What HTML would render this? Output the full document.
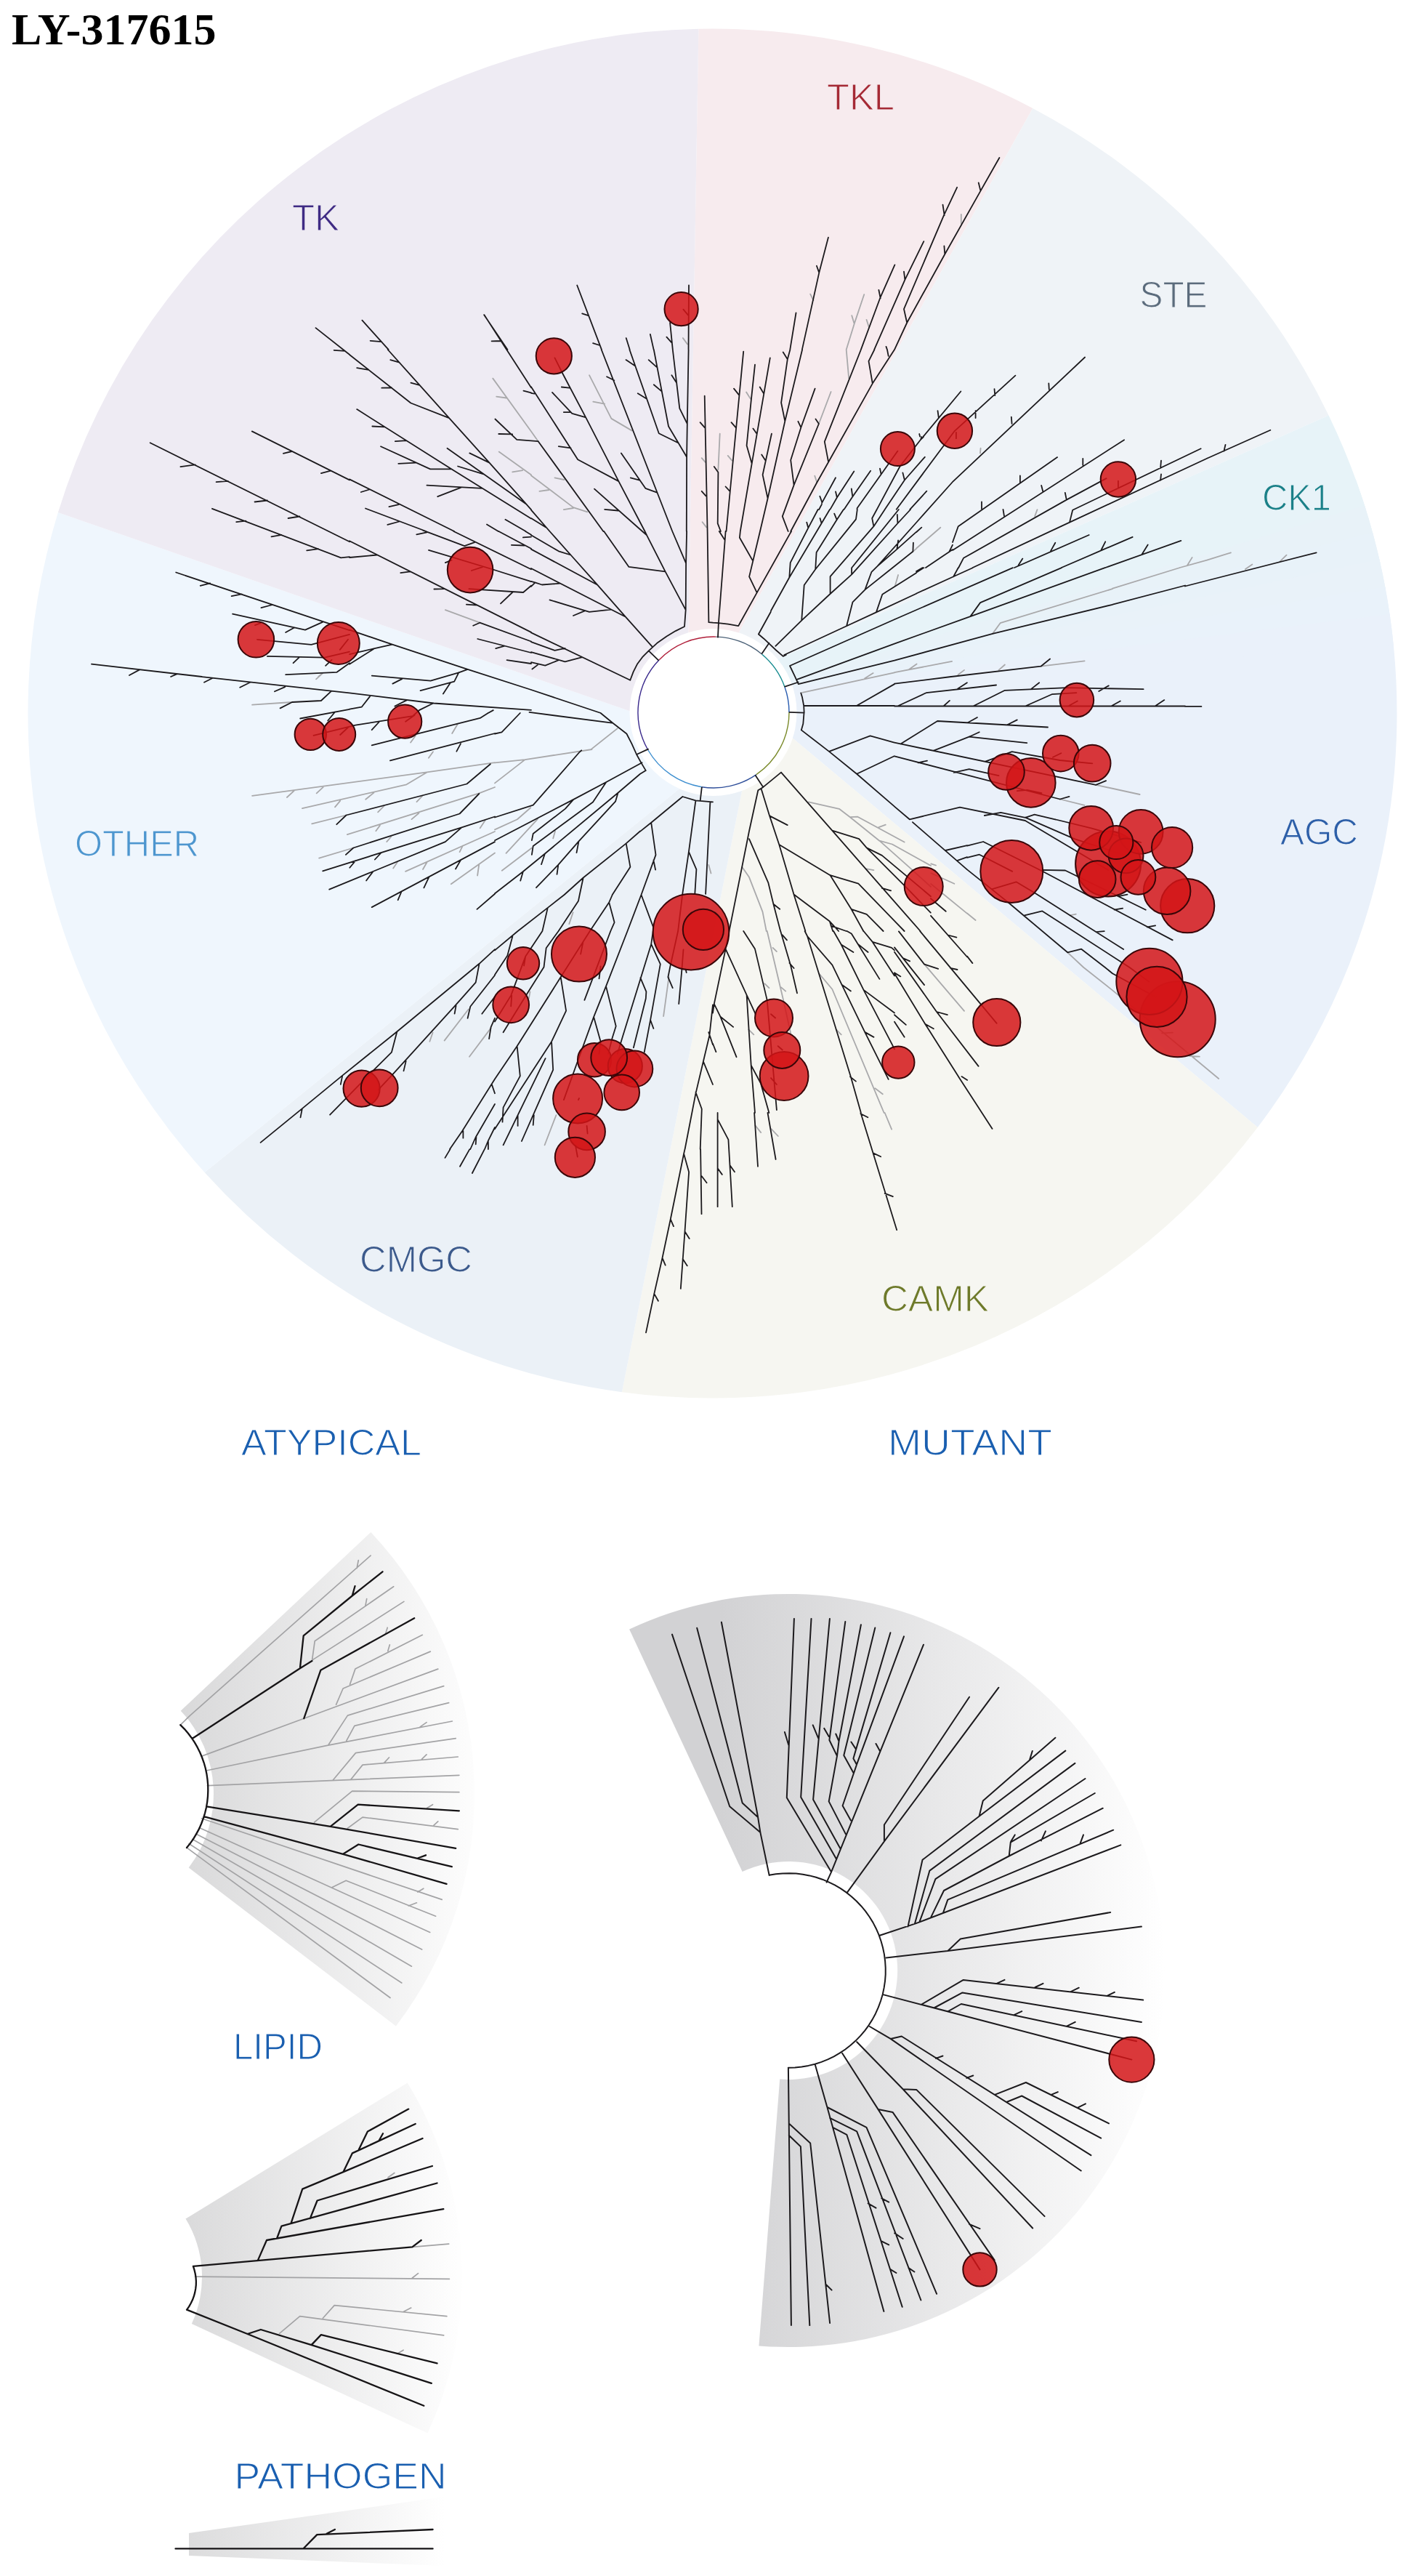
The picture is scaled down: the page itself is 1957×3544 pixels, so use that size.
<!DOCTYPE html>
<html><head><meta charset="utf-8"><title>LY-317615</title>
<style>
html,body{margin:0;padding:0;background:#fff}
body{width:1957px;height:3544px;overflow:hidden;position:relative}
svg{position:absolute;left:0;top:0;display:block}
.t{font-family:"Liberation Serif",serif;font-weight:bold;font-size:62px;fill:#000}
.l{font-family:"Liberation Sans",sans-serif;font-size:50px}
.k{fill:none;stroke:#1c1a1d;stroke-width:1.8;stroke-linecap:round;stroke-linejoin:round}
.g{fill:none;stroke:#a9a9ab;stroke-width:1.8;stroke-linecap:round;stroke-linejoin:round}
.b{fill:none;stroke:#161416;stroke-width:2.3;stroke-linecap:round;stroke-linejoin:round}
.m{fill:none;stroke:#1c1a1d;stroke-width:2;stroke-linecap:round;stroke-linejoin:round}
.h{fill:none;stroke:#a3a3a5;stroke-width:1.7;stroke-linecap:round;stroke-linejoin:round}
.c{fill:#d31518;fill-opacity:.85;stroke:#3a0608;stroke-width:2}
</style></head><body>
<svg width="1957" height="3544" viewBox="0 0 1957 3544">
<defs>
<linearGradient id="ga" gradientUnits="userSpaceOnUse" x1="250" y1="0" x2="655" y2="0"><stop offset="0" stop-color="#d9d9da"/><stop offset="1" stop-color="#fdfdfd"/></linearGradient>
<linearGradient id="gm" gradientUnits="userSpaceOnUse" x1="990" y1="0" x2="1605" y2="0"><stop offset="0" stop-color="#d2d2d4"/><stop offset="1" stop-color="#ffffff"/></linearGradient>
<linearGradient id="gl" gradientUnits="userSpaceOnUse" x1="255" y1="0" x2="630" y2="0"><stop offset="0" stop-color="#dadadb"/><stop offset="1" stop-color="#fefefe"/></linearGradient>
<linearGradient id="gp" gradientUnits="userSpaceOnUse" x1="260" y1="0" x2="612" y2="0"><stop offset="0" stop-color="#dcdcdd"/><stop offset="1" stop-color="#ffffff"/></linearGradient>
</defs>

<path d="M947.3,873.4 L961.4,39.7 A942,942 0 0 1 1421.3,149.0 L1015.2,873.2 L981.5,980 Z" fill="#f7ebee"/>
<path d="M1015.2,873.2 L1421.3,149.0 A942,942 0 0 1 1828.6,571.5 L1067.3,908.0 L981.5,980 Z" fill="#eff3f7"/>
<path d="M1067.3,908.0 L1828.6,571.5 A942,942 0 0 1 1905.2,801.8 L1088.0,945.4 L981.5,980 Z" fill="#e7f3f8"/>
<path d="M1088.0,945.4 L1905.2,801.8 A942,942 0 0 1 1730.8,1551.0 L1088.4,1013.5 L981.5,980 Z" fill="#eaf1fa"/>
<path d="M1088.4,1013.5 L1730.8,1551.0 A942,942 0 0 1 855.9,1915.2 L1021.8,1084.5 L981.5,980 Z" fill="#f6f6f1"/>
<path d="M1021.8,1084.5 L855.9,1915.2 A942,942 0 0 1 281.6,1613.0 L937.7,1083.1 L981.5,980 Z" fill="#ebf1f7"/>
<path d="M937.7,1083.1 L281.6,1613.0 A942,942 0 0 1 79.9,705.1 L869.5,979.2 L981.5,980 Z" fill="#eff6fd"/>
<path d="M869.5,979.2 L79.9,705.1 A942,942 0 0 1 961.4,39.7 L947.3,873.4 L981.5,980 Z" fill="#eeebf3"/>
<path d="M1083.8,934.4 L1865.7,659.3 A942,942 0 0 1 1879.6,700.3 L1085.1,937.4 L981.5,980 Z" fill="#e7f3f8"/>
<path d="M1084.8,936.8 L1878.1,695.6 A942,942 0 0 1 1890.3,737.2 L1086.0,939.8 L981.5,980 Z" fill="#e8f2f8"/>
<path d="M1085.8,939.3 L1889.0,732.4 A942,942 0 0 1 1899.5,774.4 L1086.9,942.2 L981.5,980 Z" fill="#e8f2f9"/>
<path d="M1086.7,941.7 L1898.4,769.6 A942,942 0 0 1 1907.1,812.0 L1087.8,944.7 L981.5,980 Z" fill="#e9f2f9"/>
<path d="M1087.6,944.2 L1906.2,807.1 A942,942 0 0 1 1913.3,849.9 L1088.6,947.2 L981.5,980 Z" fill="#e9f2fa"/>
<path d="M1088.4,946.6 L1912.6,845.0 A942,942 0 0 1 1917.8,887.9 L1089.3,949.7 L981.5,980 Z" fill="#eaf1fa"/>
<circle cx="981.5" cy="980" r="115" fill="#fff"/>
<path d="M907.2,907.8 A104,104 0 0 1 985.6,876.1" fill="none" stroke="#b01f3a" stroke-width="1.4"/>
<path d="M985.6,876.1 A104,104 0 0 1 1048.8,900.3" fill="none" stroke="#4a6076" stroke-width="1.4"/>
<path d="M1048.8,900.3 A104,104 0 0 1 1080.0,945.3" fill="none" stroke="#148a8e" stroke-width="1.4"/>
<path d="M1080.0,945.3 A104,104 0 0 1 1086.0,980.0" fill="none" stroke="#2a5db0" stroke-width="1.4"/>
<path d="M1086.0,980.0 A104,104 0 0 1 1040.9,1065.7" fill="none" stroke="#7a8a2a" stroke-width="1.4"/>
<path d="M1040.9,1065.7 A104,104 0 0 1 965.7,1082.7" fill="none" stroke="#2f4f9a" stroke-width="1.4"/>
<path d="M965.7,1082.7 A104,104 0 0 1 891.9,1032.0" fill="none" stroke="#3e8fd0" stroke-width="1.4"/>
<path d="M891.9,1032.0 A104,104 0 0 1 907.2,907.8" fill="none" stroke="#3a2a8c" stroke-width="1.4"/>
<path d="M510.4,2107.9 A526,526 0 0 1 544.9,2787.5 L259.7,2569.4 A167,167 0 0 0 248.7,2353.7 Z" fill="url(#ga)" />
<path d="M866.1,2241.5 A518,518 0 1 1 1044.4,3227.4 L1073.2,2860.5 A150,150 0 1 0 1021.6,2575.1 Z" fill="url(#gm)" />
<path d="M560.7,2865.5 A511,511 0 0 1 588.5,3347.6 L263.8,3196.9 A153,153 0 0 0 255.5,3052.6 Z" fill="url(#gl)" />
<path d="M260,3485 L611,3435 L611,3530 L260,3516 Z" fill="url(#gp)"/>
<path class="h" d="M248.0,2373.4 L261.6,2360.1 L510.1,2140.1 M491.1,2157.5 L493.3,2146.5 M429.4,2285.1 L433.2,2257.8 L541.7,2182.8 M502.8,2209.7 L504.7,2199.6 M429.4,2284.1 L555.9,2203.4 M530.6,2247.7 L533.2,2239.2 M277.5,2416.1 L418.3,2364.2 L602.8,2296.1 M462.6,2345.2 L472.1,2323.0 L592.3,2272.1 M481.6,2317.3 L488.9,2296.1 L581.3,2249.3 M533.8,2271.5 L536.3,2262.9 M283.8,2436.0 L451.5,2401.2 L622.4,2368.0 M578.1,2375.9 L587.0,2369.6 M451.5,2401.2 L478.4,2360.1 L610.7,2319.6 M476.8,2394.9 L487.9,2374.3 L617.7,2342.7 M285.4,2456.6 L631.9,2442.3 M458.5,2448.7 L489.5,2411.6 L627.2,2391.7 M483.2,2447.7 L499.0,2428.1 L630.3,2417.0 M529.1,2424.9 L535.4,2418.0 M580.6,2420.2 L587.0,2413.9 M432.5,2507.1 L484.7,2464.1 L631.9,2465.6 M587.6,2487.5 L595.5,2482.7 M478.4,2515.3 L499.0,2500.1 L630.3,2516.6 M597.1,2511.2 L602.8,2505.8 M277.5,2501.7 L608.2,2613.4 M574.9,2603.0 L582.8,2598.2 M274.3,2514.4 L591.7,2658.4 M457.2,2596.6 L476.2,2587.2 L599.6,2636.2 M562.3,2622.0 L573.4,2617.8 M269.6,2522.9 L580.6,2682.1 M264.8,2530.2 L566.4,2705.2 M260.1,2536.5 L552.8,2728.0 M256.9,2541.9 L537.0,2748.5 M567.4,3091.4 L617.7,3087.2 M534.0,2995.8 L542.8,2989.5 M268.6,3132.2 L618.4,3135.4 M567.4,3134.0 L575.5,3127.7 M546.3,3238.4 L555.1,3233.2 M384.6,3210.3 L412.7,3186.7 L610.7,3212.8 M444.4,3189.2 L460.2,3171.6 L614.9,3186.7 M555.1,3180.4 L565.7,3175.1"/>
<path class="b" d="M248.3,2373.1 L253.7,2378.6 L258.8,2384.5 L263.5,2390.7 L267.8,2397.2 L271.7,2403.9 L275.1,2410.8 L278.1,2418.0 L280.7,2425.3 L282.8,2432.8 L284.4,2440.4 L285.5,2448.1 L286.2,2455.8 L286.3,2463.6 L286.0,2471.3 L285.2,2479.1 L283.9,2486.7 L282.1,2494.3 L279.8,2501.7 L277.1,2509.0 L274.0,2516.1 L270.3,2522.9 L266.3,2529.6 L261.9,2535.9 L257.0,2542.0 M264.8,2391.7 L412.9,2295.2 L429.4,2285.1 M412.9,2295.2 L417.7,2250.3 L484.7,2195.5 L526.5,2162.3 M484.7,2195.5 L488.5,2182.2 M418.3,2364.2 L441.4,2297.7 L570.2,2226.2 M284.4,2485.3 L454.7,2512.8 L627.2,2542.8 M454.7,2512.8 L492.7,2482.7 L631.9,2491.3 M280.6,2499.2 L472.1,2550.8 L614.5,2591.9 M472.1,2550.8 L493.3,2537.5 L621.8,2568.2 M574.9,2556.5 L586.0,2552.3 M265.9,3117.9 L267.5,3122.9 L268.7,3128.0 L269.5,3133.2 L269.9,3138.5 L269.8,3143.7 L269.2,3148.9 L268.2,3154.1 L266.8,3159.2 L265.0,3164.1 L262.7,3168.8 L260.1,3173.4 L257.1,3177.7 M266.1,3117.8 L567.4,3091.4 M567.4,3091.4 L579.7,3082.0 M354.7,3110.1 L367.0,3082.0 L610.3,3039.1 M381.1,3079.5 L387.4,3062.6 L601.5,3003.5 M400.4,3059.1 L416.2,3011.6 L472.5,2988.1 L581.5,2942.0 M426.8,3052.1 L436.6,3027.5 L594.9,2980.0 M472.5,2988.1 L484.8,2962.4 L571.7,2922.0 M493.6,2957.8 L505.9,2932.5 L562.2,2901.6 M521.7,2944.8 L527.0,2935.3 M257.0,3177.6 L340.6,3211.0 L583.3,3309.8 M340.6,3211.0 L358.9,3205.0 L428.6,3226.1 L593.8,3278.9 M428.6,3226.1 L441.9,3212.1 L601.5,3251.4 M241.5,3506.4 L595.6,3506.4 M418.0,3505.7 L436.3,3487.1 L595.6,3480.0 M449.6,3485.7 L460.9,3480.0"/>
<path class="m" d="M1058.6,2579.8 L1067.7,2578.3 L1077.0,2577.4 L1086.3,2577.2 L1095.6,2577.6 L1104.9,2578.7 L1114.0,2580.4 L1123.1,2582.7 L1131.9,2585.7 L1140.5,2589.3 L1148.8,2593.4 L1156.9,2598.1 L1164.5,2603.4 L1171.8,2609.2 L1178.7,2615.5 L1185.1,2622.2 L1191.1,2629.4 L1196.5,2637.0 L1201.4,2644.9 L1205.7,2653.2 L1209.4,2661.7 L1212.5,2670.5 L1215.0,2679.5 L1216.9,2688.6 L1218.1,2697.8 L1218.7,2707.1 L1218.7,2716.4 L1218.0,2725.7 L1216.6,2734.9 L1214.7,2744.0 L1212.0,2753.0 L1208.8,2761.7 L1205.0,2770.2 L1200.6,2778.4 L1195.6,2786.3 L1190.1,2793.8 L1184.1,2800.9 L1177.6,2807.6 L1170.6,2813.8 L1163.3,2819.5 L1155.5,2824.7 L1147.5,2829.3 L1139.1,2833.4 L1130.4,2836.9 L1121.6,2839.7 L1112.5,2841.9 L1103.3,2843.5 L1094.1,2844.5 L1084.8,2844.8 M992.9,2231.7 L1042.8,2498.2 L1046.4,2521.1 L1058.7,2580.1 M1046.4,2521.1 L1004.2,2485.2 L925.0,2248.6 M1042.1,2499.3 L1021.7,2480.6 L959.2,2239.8 M1165.9,2603.7 L1216.9,2533.4 L1374.4,2321.7 M1216.9,2533.4 L1216.9,2510.5 L1334.0,2334.7 M1137.6,2589.7 L1144.1,2575.4 L1271.0,2262.7 M1211.1,2409.2 L1205.5,2399.0 M1092.9,2226.9 L1082.8,2473.3 L1144.1,2575.4 M1085.3,2400.7 L1079.9,2383.0 M1116.5,2226.9 L1102.2,2472.4 L1151.1,2557.7 M1141.9,2226.9 L1119.1,2475.8 L1156.5,2543.3 M1126.2,2391.4 L1118.7,2373.4 M1163.3,2231.1 L1141.4,2394.0 L1152.0,2415.9 M1140.7,2388.9 L1134.3,2377.9 M1184.9,2235.3 L1154.5,2395.7 L1152.0,2415.9 L1140.7,2478.4 L1163.8,2523.1 M1154.5,2395.7 L1150.3,2385.5 M1204.3,2239.5 L1161.3,2415.1 L1174.8,2439.5 M1225.4,2246.3 L1178.1,2406.6 L1174.4,2419.3 L1179.0,2427.7 M1178.1,2406.6 L1171.4,2396.5 M1244.0,2251.4 L1179.0,2427.7 L1159.6,2484.3 L1170.9,2504.5 M1210.0,2663.0 L1260.0,2646.4 L1542.3,2538.4 M1347.6,2498.7 L1352.8,2477.6 L1452.4,2390.7 M1417.2,2420.6 L1420.8,2409.0 M1249.5,2650.6 L1269.5,2558.8 L1347.6,2498.7 L1466.3,2408.6 M1258.9,2646.8 L1279.4,2573.6 L1479.4,2425.9 M1265.3,2644.3 L1287.4,2585.2 L1493.5,2447.0 M1281.1,2637.9 L1299.0,2601.0 L1388.7,2553.5 L1517.8,2487.7 M1433.0,2532.4 L1438.9,2519.4 M1388.7,2553.5 L1390.8,2534.6 L1506.8,2467.0 M1391.2,2533.5 L1396.7,2524.4 M1298.0,2631.6 L1304.3,2613.7 L1532.2,2517.7 M1486.8,2535.6 L1491.0,2524.4 M1219.6,2693.4 L1304.4,2683.9 L1570.9,2650.6 M1304.4,2683.9 L1321.8,2667.4 L1528.2,2631.0 M1215.4,2744.1 L1557.4,2833.6 M1268.4,2757.6 L1325.8,2723.9 L1573.2,2751.6 M1371.7,2728.9 L1382.5,2723.9 M1424.7,2734.0 L1435.5,2728.9 M1473.7,2740.1 L1484.8,2734.7 M1523.6,2745.8 L1533.8,2740.8 M1286.3,2762.0 L1324.5,2741.4 L1570.9,2781.9 M1304.9,2767.1 L1322.8,2757.0 L1564.1,2808.3 M1396.0,2771.8 L1406.2,2767.1 M1468.6,2787.3 L1479.7,2781.9 M1196.9,2788.0 L1225.6,2804.9 L1487.8,2986.5 M1225.6,2804.9 L1240.8,2801.5 L1501.4,2965.2 M1288.0,2831.9 L1297.5,2828.5 M1330.2,2858.9 L1339.3,2855.5 M1369.0,2881.9 L1411.9,2865.0 L1526.0,2921.4 M1446.7,2881.9 L1455.8,2878.1 M1483.8,2899.4 L1493.9,2894.3 M1385.2,2892.0 L1406.2,2883.5 L1515.2,2941.6 M1084.9,2845.8 L1088.9,3199.1 M1085.8,2921.6 L1115.2,2948.5 L1142.1,3196.0 M1136.5,3142.8 L1144.6,3150.6 M1085.8,2937.7 L1101.9,2953.2 L1114.3,3199.1 M1122.0,2841.2 L1138.4,2899.0 L1216.4,3180.0 M1138.4,2899.0 L1192.5,2926.9 L1289.1,3155.8 M1213.3,3024.3 L1223.2,3029.6 M1250.4,3120.2 L1258.4,3125.5 M1142.1,2913.9 L1179.2,2932.4 L1267.4,3164.5 M1231.2,3072.3 L1242.7,3080.0 M1146.1,2926.9 L1165.3,2936.8 L1241.7,3173.8 M1194.7,3031.4 L1205.5,3037.6 M1212.6,3083.1 L1223.2,3088.4 M1225.0,3121.8 L1233.4,3127.0 M1159.1,2824.8 L1208.6,2902.1 L1348.5,3122.4 M1208.6,2902.1 L1228.7,2906.1 L1368.6,3109.4 M1333.9,3059.9 L1348.5,3066.1 M1179.2,2809.3 L1242.7,2874.3 L1421.2,3065.5 M1242.7,2874.3 L1261.2,2874.9 L1437.6,3049.1"/>
<path class="g" d="M1469.2,1310.3 L1491.3,1331.0 M1472.4,1259.3 L1480.8,1257.6 M1331.0,1256.5 L1342.6,1266.0 M443.9,926.2 L438.2,931.0 M443.9,926.3 L435.1,934.4 M402.0,966.0 L347.1,969.6 M629.8,996.3 L622.2,1009.0 M572.1,1011.8 L565.1,1021.6 M596.0,1034.3 L589.9,1042.7 M681.0,1049.2 L587.6,1062.4 L347.1,1094.8 M404.8,1087.8 L394.9,1097.0 M445.6,1082.1 L435.7,1091.4 M587.6,1062.4 L559.5,1079.3 L416.0,1112.2 M514.5,1090.6 L503.2,1099.8 M468.1,1101.8 L461.0,1110.3 M476.5,1121.5 L429.2,1133.3 M581.4,1094.8 L573.5,1103.2 M528.5,1108.8 L520.1,1117.3 M681.0,1083.0 L659.3,1091.4 L477.9,1148.2 M576.4,1118.7 L566.5,1127.1 M522.9,1135.6 L517.3,1143.2 M486.3,1166.5 L439.1,1180.6 M538.4,1151.0 L532.2,1158.1 M546.8,1186.2 L541.2,1194.6 M681.0,1144.0 L558.1,1198.9 M636.8,1163.7 L632.6,1172.1 M587.6,1186.2 L582.0,1196.0 M667.8,1128.5 L660.7,1139.2 M681.0,1173.5 L620.8,1216.3 M659.3,1189.0 L657.1,1204.5 M678.3,520.6 L731.0,593.5 M696.9,547.5 L683.2,545.7 M686.7,621.6 L731.0,653.3 M719.2,647.1 L705.2,649.4 M612.9,839.1 L660.3,856.7 M595.6,1420.5 L591.4,1432.8 M644.8,1388.5 L611.6,1431.6 M675.6,1414.4 L646.0,1453.7 M869.9,592.6 L841.4,575.9 L811.0,516.2 M832.1,555.7 L816.3,552.7 M731.0,593.5 L740.7,607.2 M731.0,654.2 L789.0,698.1 L808.4,704.3 M776.4,660.0 L763.5,657.3 M755.6,674.0 L742.4,675.8 M789.0,699.0 L775.8,701.1 M970.5,635.7 L965.7,630.1 M972.2,725.4 L966.6,718.3 M849.8,1002.1 L813.9,1030.6 M975.3,1189.9 L978.5,1201.5 M788.6,1255.3 L783.3,1271.1 M729.5,1364.3 L727.8,1373.8 M765.4,1534.2 L749.6,1575.3 M920.5,1344.3 L913.1,1398.1 M990.7,596.7 L988.4,646.3 M1007.4,633.6 L1001.7,626.9 M1032.9,548.7 L1027.1,539.5 M1143.6,539.0 L1126.9,583.0 M1164.7,481.0 L1168.2,520.6 M1124.3,663.8 L1121.3,654.7 M1104.1,952.9 L1231.0,925.3 M1190.2,933.2 L1201.6,926.1 M1119.4,413.1 L1115.2,404.6 M1164.7,480.9 L1175.7,445.4 L1189.2,405.2 M1175.7,445.4 L1172.3,434.2 M1196.2,451.0 L1192.5,439.8 M1322.8,307.6 L1322.8,294.9 M946.0,473.5 L939.9,465.1 M1112.8,1103.4 L1154.9,1112.8 L1169.9,1124.2 L1210.3,1156.7 L1250.8,1192.7 L1281.0,1220.0 M1169.9,1124.2 L1180.4,1123.7 L1244.6,1158.5 M1209.4,1138.2 L1218.8,1134.7 M1210.3,1156.7 L1227.9,1161.5 L1281.0,1191.0 M1192.7,1195.4 L1202.4,1197.1 M1031.0,1206.8 L1049.5,1254.3 L1054.7,1281.0 M1281.4,1201.2 L1313.3,1215.8 M1281.3,1188.3 L1288.0,1190.5 M1281.1,1216.0 L1330.8,1256.6 M1272.1,1326.6 L1327.0,1390.9 M1491.3,1331.0 L1531.0,1362.4 M1030.2,1416.4 L1037.3,1423.4 M1052.2,1353.1 L1058.4,1359.2 M1055.7,1281.0 L1077.7,1374.2 L1088.2,1421.6 M1063.6,1303.9 L1068.9,1309.1 M1075.1,1358.4 L1081.2,1363.6 M1150.7,1416.4 L1157.7,1423.4 M1126.9,1339.0 L1145.4,1361.0 L1216.6,1531.0 M1204.3,1497.2 L1214.8,1505.2 M1039.3,1548.2 L1047.2,1558.1 M1061.4,1553.2 L1070.8,1563.0 M1217.7,1531.0 L1227.1,1553.6 M1021.3,1192.7 L1031.0,1206.8 M1661.0,770.6 L1693.9,760.3 M1713.9,783.1 L1723.4,776.4 M1761.4,772.6 L1770.5,763.7 M1531.0,1362.4 L1677.2,1484.0 M1599.1,1421.3 L1613.9,1420.7 M1637.1,1452.9 L1650.8,1453.6 M1261.3,754.3 L1294.3,725.7 M1256.4,758.7 L1261.0,754.9 M1231.9,805.8 L1236.1,791.0 M1349.0,623.5 L1349.6,616.7 M1424.2,710.1 L1427.5,701.1 M1623.6,781.0 L1661.0,770.6 M1640.7,766.9 L1633.7,778.2 M1531.1,809.6 L1623.8,781.0 M1508.1,1079.8 L1568.6,1093.0 M1458.8,1099.5 L1492.6,1107.9 M1366.0,871.9 L1376.6,857.2 L1531.0,810.1 M1231.0,925.1 L1310.1,909.9 M1251.0,920.9 L1261.6,913.5 M1432.5,916.7 L1492.6,909.3 M1318.6,928.3 L1327.0,921.9 M1374.5,921.9 L1382.9,914.5 M814.6,1031.0 L722.5,1045.1 L681.0,1049.3 M722.5,1045.1 L681.0,1077.4 M730.2,1111.2 L711.9,1127.3 L681.0,1141.4 M740.1,1126.6 L696.5,1173.8 M764.0,1143.5 L761.2,1153.4 M731.6,1166.7 L690.8,1197.7"/>
<path class="k" d="M1410.9,1128.9 L1525.1,1197.0 M1453.1,1127.5 L1501.7,1139.3 L1570.1,1159.0 M1410.9,1124.7 L1478.7,1154.2 L1550.4,1177.3 M1331.0,1163.7 L1353.2,1158.0 L1434.4,1198.5 L1613.7,1293.4 M1533.5,1251.7 L1545.1,1249.6 M1578.9,1275.5 L1590.1,1273.4 M1434.4,1196.8 L1466.0,1197.5 L1576.8,1251.7 M1538.8,1233.1 L1551.5,1230.6 M1331.0,1179.9 L1347.9,1175.7 L1393.2,1198.9 M1331.0,1196.4 L1364.8,1223.4 L1389.0,1242.8 L1409.1,1259.7 L1469.2,1310.3 M1364.8,1223.4 L1398.5,1213.3 L1424.9,1229.1 L1546.2,1306.1 M1508.2,1282.1 L1519.8,1281.2 M1409.1,1259.7 L1434.4,1253.4 L1554.6,1331.0 M1469.2,1310.3 L1488.2,1305.7 L1520.9,1331.0 M1331.0,1315.6 L1338.4,1325.1 M346.8,593.4 L481.0,660.4 M401.7,621.0 L389.9,623.8 M455.1,647.7 L441.9,651.1 M206.7,609.2 L481.0,745.3 M268.9,639.3 L248.4,642.1 M313.9,661.8 L297.6,663.2 M367.9,688.5 L350.5,690.5 M412.4,710.5 L396.6,713.0 M292.0,699.8 L469.2,767.3 L481.0,766.2 M338.4,716.7 L325.2,718.1 M387.6,735.8 L373.5,738.3 M438.2,755.2 L422.2,757.4 M242.2,787.5 L446.7,855.9 L481.0,867.1 M289.2,802.4 L275.7,805.8 M332.8,817.4 L318.7,820.2 M375.0,832.0 L359.5,836.2 M320.1,844.6 L420.0,866.6 L443.9,855.9 M404.5,863.8 L393.2,870.0 M358.1,857.3 L351.0,860.1 M353.9,879.8 L428.4,886.8 L481.0,872.8 M467.8,893.9 L479.0,879.8 M367.9,902.9 L446.7,904.6 L481.0,896.7 M411.5,904.6 L403.6,912.2 M456.5,907.9 L448.1,915.8 M393.2,928.2 L463.6,924.8 L481.0,912.2 M126.0,913.6 L277.9,931.0 M192.1,921.4 L178.0,929.0 M242.7,927.6 L235.1,931.0 M277.9,931.1 L481.0,953.3 M292.3,933.0 L281.0,938.7 M344.3,938.7 L330.2,945.7 M392.1,945.1 L378.0,951.3 M455.4,951.3 L441.9,964.0 L402.0,966.0 L385.6,974.4 M481.0,975.8 L413.2,988.5 M461.0,979.5 L451.2,991.5 M576.9,977.2 L567.9,985.1 L489.2,997.7 L431.5,1011.8 M521.5,993.5 L511.7,1004.2 M479.3,1000.5 L468.1,1011.0 M570.7,983.7 L558.1,992.7 M671.7,980.9 L660.7,987.9 L511.7,1025.3 M681.0,1009.0 L537.0,1046.4 M634.0,1023.1 L628.4,1033.7 M674.8,1051.2 L642.5,1078.5 L476.5,1121.5 L463.3,1134.2 M659.3,1092.0 L632.6,1119.5 L486.3,1166.5 L475.9,1175.8 M681.0,1123.5 L635.4,1138.4 L444.2,1198.3 M524.3,1173.5 L515.9,1182.5 M489.2,1184.2 L481.3,1193.8 M635.4,1138.4 L612.9,1158.1 L453.2,1223.6 M513.1,1199.4 L504.1,1211.5 M681.0,1158.1 L511.7,1248.1 M634.0,1183.4 L627.0,1195.5 M590.4,1206.7 L583.4,1221.4 M552.4,1227.0 L547.7,1238.2 M681.0,1229.8 L656.5,1250.9 M697.2,481.0 L731.0,533.2 M731.0,540.4 L720.5,537.6 M681.4,576.5 L711.3,604.9 L731.0,606.4 M705.2,597.4 L686.3,597.0 M533.7,481.0 L618.1,575.1 L673.5,636.6 L731.0,701.1 M549.6,498.6 L537.3,495.1 M577.3,529.9 L565.4,526.7 M618.1,575.1 L565.4,554.5 L481.0,488.0 M507.4,508.8 L491.2,506.1 M539.0,533.4 L525.3,533.7 M673.5,636.6 L646.3,623.4 M615.5,616.7 L724.5,693.7 M665.6,652.4 L630.1,641.5 M491.2,563.1 L621.6,645.4 L731.0,713.4 M529.3,587.4 L512.3,586.5 M559.2,606.2 L543.9,607.1 M621.6,645.4 L592.1,645.4 L524.1,614.3 M572.4,636.6 L548.3,637.8 M663.8,671.8 L587.4,667.7 M634.0,670.9 L602.3,683.2 M481.0,659.4 L625.2,731.0 M508.3,673.5 L496.8,677.0 M548.7,694.1 L535.5,697.2 M503.0,699.5 L586.5,731.0 M549.6,717.5 L533.4,721.9 M670.0,721.5 L685.8,731.0 M695.5,714.8 L723.6,731.0 M481.0,744.2 L731.0,869.9 M518.8,763.5 L481.0,767.0 M564.5,786.4 L551.3,788.1 M611.1,810.1 L597.4,810.5 M656.8,832.6 L641.9,831.7 M587.4,732.4 L573.3,735.4 M582.1,729.6 L639.2,751.2 L653.1,746.1 M624.3,731.0 L731.0,783.2 M590.0,756.8 L676.9,783.0 L731.0,800.1 M621.6,770.6 L612.9,774.1 M663.8,780.2 L648.9,785.0 M645.4,810.1 L720.1,815.0 L731.0,805.7 M705.2,815.0 L689.0,830.3 M686.3,731.0 L731.0,754.7 M723.1,731.0 L731.0,735.7 M721.7,750.5 L703.9,749.8 M731.0,738.7 L719.9,739.4 M660.3,856.7 L651.2,860.7 M660.3,856.7 L731.0,882.5 M657.3,879.0 L731.0,898.0 M694.6,888.7 L682.3,892.2 M697.6,908.2 L731.0,913.0 M481.0,866.7 L539.9,886.6 L643.6,920.9 L731.0,949.0 M539.9,886.6 L514.4,892.4 L481.0,900.1 M514.4,892.7 L481.0,913.8 M643.6,920.9 L631.3,925.3 L592.6,936.7 L511.8,929.7 M553.1,934.1 L540.4,940.6 M631.3,925.3 L625.2,937.6 L578.6,950.2 M619.9,939.3 L609.9,954.6 M481.0,953.4 L597.0,967.5 L731.0,976.8 M509.1,958.1 L497.7,972.7 L481.0,975.7 M560.1,963.1 L543.4,971.5 M596.2,967.5 L576.8,977.1 M678.8,977.1 L671.8,981.0 M681.0,1306.1 L659.6,1325.8 L546.4,1419.3 L471.3,1479.6 L415.9,1525.1 L358.6,1571.9 M471.3,1479.6 L468.8,1491.9 M415.9,1525.1 L413.5,1537.4 M659.6,1325.8 L654.7,1351.6 L626.3,1383.6 L540.2,1478.4 L520.5,1499.3 M627.6,1383.6 L625.6,1394.7 M558.7,1459.9 L555.5,1473.4 M546.4,1419.3 L539.0,1447.6 L513.1,1473.4 L454.1,1533.7 M681.0,1341.8 L647.3,1384.8 L643.6,1400.8 M681.0,1371.3 L663.3,1394.7 M681.0,1400.8 L675.6,1413.1 L673.1,1429.1 M681.0,1484.5 L636.2,1555.9 L619.0,1581.0 M637.4,1555.9 L637.4,1565.7 M676.8,1491.9 L681.0,1504.2 M681.0,1519.0 L654.7,1564.5 L647.3,1581.0 M655.4,1564.5 L654.7,1574.3 M681.0,1551.0 L671.9,1569.4 L667.0,1581.0 M671.9,1570.7 L671.9,1581.0 M947.6,481.0 L945.8,583.0 L945.1,628.7 L944.8,731.0 M945.8,583.0 L935.3,561.9 L925.8,481.0 M930.5,525.8 L924.4,516.2 M945.1,628.7 L920.0,586.5 L899.8,481.0 M910.3,538.1 L899.8,529.3 M903.3,504.7 L892.7,495.1 M933.2,609.3 L906.8,596.2 L866.4,481.0 M890.1,548.7 L877.8,541.3 M873.4,503.0 L861.5,495.1 M827.7,481.0 L925.3,731.0 M845.3,523.2 L835.1,518.3 M904.2,677.6 L888.3,671.8 L854.9,623.4 M880.1,660.7 L867.8,657.3 M763.5,492.4 L774.1,513.5 L806.6,575.1 L851.4,662.1 L887.5,731.0 M783.7,533.7 L772.8,532.5 M805.7,574.2 L787.3,568.9 L760.0,539.9 M785.5,567.1 L775.8,567.1 M851.4,662.1 L795.2,632.2 L731.0,532.3 M785.5,616.4 L768.8,614.1 M735.4,541.7 L731.0,540.8 M818.0,672.6 L884.0,731.0 M850.5,702.5 L832.1,700.8 M740.7,607.2 L830.3,731.0 M740.7,607.2 L731.0,606.4 M731.0,701.6 L756.5,731.0 M731.0,713.1 L751.2,725.4 M969.7,544.6 L973.6,731.0 M969.7,588.2 L963.6,581.2 M971.5,682.3 L965.7,675.8 M867.3,935.8 L871.6,924.4 L876.9,913.8 L884.0,904.2 L892.7,895.4 L904.2,884.8 L917.4,875.5 L929.7,868.1 L942.0,862.0 L943.7,839.1 L944.1,775.0 L945.1,731.0 M892.7,895.4 L905.9,908.2 M867.3,935.8 L731.0,870.4 M801.3,904.2 L777.6,910.3 L731.0,897.1 M768.8,908.2 L750.3,915.6 L731.0,911.2 M739.8,914.9 L732.4,920.5 M777.6,891.9 L763.5,894.9 L731.0,883.1 M897.1,889.2 L861.1,848.8 L822.4,804.8 L785.5,763.5 L756.5,731.0 M861.1,848.8 L731.0,782.0 M840.9,838.6 L811.0,841.8 L756.5,825.4 M804.8,840.4 L789.0,847.0 M770.6,802.7 L745.9,804.5 L736.3,801.3 L731.0,799.9 M736.3,801.7 L731.0,806.9 M822.4,804.8 L731.0,755.6 M785.5,763.5 L768.8,758.3 L731.0,736.3 M943.7,839.1 L915.6,786.4 L890.1,736.3 L887.5,731.0 M915.6,786.4 L865.5,779.9 L831.2,731.0 M890.1,736.3 L884.0,731.0 M944.1,775.0 L925.3,731.0 M973.6,731.0 L975.4,856.2 L981.0,856.7 M731.0,949.0 L826.8,981.0 M728.5,979.9 L842.4,994.7 M826.6,981.0 L843.4,994.7 L862.4,1009.5 L869.4,1023.2 L876.1,1038.0 L882.5,1049.6 L888.8,1060.1 L881.0,1064.8 M876.1,1038.0 L892.0,1030.6 M715.8,981.0 L690.5,1007.4 L681.0,1009.5 M800.2,1032.3 L797.7,1034.6 M939.4,1096.0 L957.4,1101.3 L981.0,1103.4 M965.8,1083.3 L963.7,1101.3 M939.4,1096.0 L896.2,1131.8 L881.0,1143.9 M896.2,1131.8 L902.5,1176.1 L882.5,1231.0 L863.5,1281.0 M899.4,1183.5 L902.1,1196.6 M882.5,1231.0 L899.4,1276.4 M957.4,1101.3 L947.9,1171.9 L939.4,1228.9 L933.1,1281.0 M947.9,1171.9 L958.4,1196.2 L956.3,1229.9 M977.4,1103.4 L971.1,1229.9 M776.6,1231.0 L753.8,1248.9 L712.6,1281.0 M753.8,1248.9 L746.4,1281.0 M797.7,1231.0 L796.0,1239.4 L768.6,1281.0 M842.8,1231.0 L838.2,1241.5 L811.8,1281.0 M838.2,1241.5 L845.6,1269.0 L840.3,1281.0 M712.6,1281.0 L681.0,1307.4 M705.3,1288.4 L698.3,1314.8 L681.0,1341.1 M746.4,1281.0 L723.2,1315.8 L703.2,1369.6 L681.0,1405.5 M723.2,1315.8 L721.1,1328.5 M704.2,1369.6 L703.2,1384.4 M768.6,1281.0 L751.7,1304.2 L748.5,1330.6 L726.4,1365.4 L692.6,1420.2 M811.8,1281.0 L771.7,1344.3 L711.6,1439.2 L681.0,1484.6 M802.3,1296.8 L799.1,1312.6 M771.7,1344.3 L779.1,1390.7 L759.1,1432.9 L681.0,1553.2 M759.1,1434.0 L761.2,1471.9 L717.9,1570.0 M734.8,1534.2 L733.7,1547.9 M750.6,1456.1 L692.6,1575.3 M712.6,1534.2 L712.6,1548.9 M711.6,1439.2 L715.8,1480.4 L692.6,1523.6 L691.5,1543.7 M840.3,1281.0 L804.4,1375.9 M826.6,1329.5 L824.5,1346.4 M863.5,1281.0 L834.0,1356.9 L817.1,1399.1 L794.9,1460.3 L775.9,1513.1 M834.0,1356.9 L847.7,1411.8 L842.4,1428.7 L837.1,1449.8 M817.1,1399.1 L826.6,1432.9 L824.5,1449.8 M899.4,1276.4 L896.2,1298.9 L856.1,1428.7 L849.8,1449.8 M881.4,1345.3 L889.4,1364.3 L888.8,1373.8 L871.9,1441.3 M896.2,1298.9 L908.8,1326.4 L895.1,1403.4 L886.7,1447.7 M895.1,1403.4 L899.4,1415.0 M933.1,1281.0 L922.6,1328.5 L919.4,1344.3 L925.7,1359.1 M940.5,1306.3 L938.4,1333.7 L934.2,1381.2 M943.7,1333.7 L944.7,1338.0 M981.0,1382.3 L976.4,1424.5 L966.9,1464.5 L957.4,1504.6 L942.6,1581.0 M975.3,1420.2 L981.0,1437.1 M967.9,1460.3 L981.0,1492.0 M957.4,1502.5 L965.8,1525.7 L963.7,1581.0 M796.0,1513.1 L797.0,1511.0 M807.6,1548.9 L808.6,1559.5 M619.5,1581.1 L612.5,1592.9 M646.3,1581.1 L633.0,1604.7 M666.8,1581.1 L649.9,1614.0 M942.5,1581.1 L941.1,1587.3 L922.8,1677.3 L911.5,1730.7 L900.3,1779.9 L889.0,1833.4 M922.8,1677.3 L927.0,1687.1 M911.5,1730.7 L915.7,1740.6 M900.3,1779.9 L905.9,1789.8 M941.1,1587.3 L948.1,1612.6 L942.5,1694.2 L936.8,1772.9 M942.5,1694.2 L948.7,1704.0 M939.6,1732.1 L945.8,1741.4 M964.1,1581.1 L965.5,1670.2 M965.8,1618.2 L972.6,1627.2 M792.0,1576.0 L794.8,1591.5 M982.8,641.9 L988.4,649.8 L987.7,720.1 L991.9,731.0 M1023.2,483.6 L999.5,731.0 M1017.0,543.4 L1010.0,534.6 M1012.6,588.2 L1006.5,581.2 M1004.7,676.1 L998.6,669.5 M1039.0,501.7 L1033.7,551.3 L1027.6,612.9 L1034.6,637.5 M1041.7,597.0 L1036.4,589.6 M1059.8,492.4 L1051.3,541.7 L1034.6,638.3 L1018.8,731.0 M1051.3,541.7 L1045.7,532.5 M1061.9,596.7 L1049.6,653.3 L1056.6,685.8 M1053.1,633.1 L1048.2,625.5 M1104.1,481.0 L1080.3,579.5 L1056.6,685.8 L1046.0,731.0 M1087.4,481.0 L1083.8,494.2 L1075.1,554.0 L1080.3,579.5 M1083.8,494.2 L1077.7,484.5 M1121.6,534.6 L1102.3,588.2 L1088.2,633.1 L1092.6,667.4 M1102.3,588.2 L1098.4,579.8 M1122.5,576.5 L1126.9,583.0 L1092.6,667.4 L1076.8,710.4 L1084.7,731.0 M1184.9,481.0 L1134.8,607.6 L1140.1,635.7 M1231.0,481.0 L1200.8,527.6 L1140.1,635.7 L1124.3,663.8 L1088.2,731.0 M1200.8,527.6 L1195.5,496.8 L1203.4,481.0 M1222.7,489.8 L1221.0,481.0 M1127.1,701.0 L1130.9,693.9 M1131.0,690.1 L1128.3,682.8 M981.0,856.7 L988.9,857.2 L1002.1,858.6 L1016.2,861.1 L1041.7,815.4 L1086.5,735.4 L1089.1,731.0 M988.9,857.2 L988.0,876.6 M988.9,857.2 L997.7,743.3 L998.6,731.0 M997.7,743.3 L989.8,731.0 M1046.0,731.0 L1031.1,793.4 L1041.7,815.4 M1035.5,770.6 L1017.9,739.8 L1018.8,731.0 M1048.7,898.9 L1058.4,884.8 M1043.9,872.5 L1051.3,878.7 L1058.4,885.4 L1068.0,894.5 L1077.7,902.9 M1080.3,944.6 L1098.8,938.5 M1087.0,916.0 L1093.5,929.7 L1098.8,941.1 M1087.0,916.0 L1231.0,852.3 M1096.7,934.9 L1231.0,885.7 M1098.8,941.1 L1231.0,908.6 M1102.3,953.4 L1104.1,959.6 L1106.2,971.0 L1106.7,981.0 M1106.2,971.0 L1231.0,971.0 M1178.8,971.0 L1231.0,941.1 M1086.5,979.8 L1106.7,980.6 M1043.9,872.5 L1060.8,841.7 M1077.7,902.9 L1081.8,901.0 M1106.5,981.0 L1105.3,995.8 L1102.8,1004.4 M1102.8,1004.4 L1141.0,1033.9 L1179.1,1064.7 L1230.8,1109.4 M1255.9,1131.1 L1331.0,1196.4 M1141.0,1033.9 L1197.6,1012.3 L1230.8,1021.6 M1179.1,1064.7 L1230.7,1040.2 M1301.0,1170.0 L1331.0,1163.1 M1317.0,1184.1 L1331.0,1179.1 M1087.3,480.9 L1095.5,430.5 M1103.9,480.9 L1127.3,375.1 L1139.9,326.7 M1127.3,375.1 L1123.9,365.8 M1184.9,480.9 L1211.7,408.8 L1231.4,364.4 M1211.7,410.3 L1209.4,399.0 M1203.2,480.9 L1245.4,384.9 L1271.3,332.1 M1245.4,384.9 L1244.0,373.7 M1220.9,480.9 L1219.5,476.9 M1231.1,480.9 L1248.2,444.0 L1300.3,349.8 L1349.5,262.6 L1375.4,217.0 M1300.3,349.8 L1299.4,338.5 M1349.5,262.6 L1346.7,251.3 M1248.2,444.0 L1244.0,425.2 L1298.9,296.3 L1317.1,257.8 M1299.7,296.3 L1297.5,281.7 M666.2,433.3 L698.5,480.9 M689.5,469.3 L676.6,469.3 M794.2,392.5 L827.9,480.9 M809.6,434.2 L801.2,431.4 M825.1,475.0 L816.1,472.1 M861.7,465.1 L866.7,480.9 M894.9,460.0 L899.6,480.9 M922.1,444.0 L925.8,480.9 M925.0,472.1 L917.4,463.7 M948.0,392.5 L947.5,480.9 M947.5,434.2 L940.4,425.7 M498.4,440.7 L534.6,480.9 M525.1,470.2 L509.6,468.8 M434.5,451.1 L480.9,487.7 M475.0,482.9 L459.6,481.8 M666.3,433.1 L697.0,480.8 M689.6,468.8 L677.0,469.4 M1039.8,1067.0 L1050.3,1082.9 M1043.3,1087.3 L1050.3,1082.9 L1075.0,1062.6 M1075.0,1062.6 L1145.3,1142.6 L1213.8,1220.9 L1266.6,1281.0 M1213.8,1221.8 L1226.1,1225.3 M1145.3,1142.6 L1182.2,1154.1 L1192.7,1166.4 L1247.2,1220.9 L1280.8,1255.6 M1192.7,1166.4 L1213.8,1176.9 L1281.0,1233.2 M1047.7,1085.5 L1059.1,1122.4 L1072.3,1162.0 L1092.5,1230.5 L1108.4,1281.0 M1059.1,1122.4 L1083.7,1135.1 M1072.3,1162.0 L1142.6,1204.2 L1181.3,1215.6 L1244.6,1281.0 M1142.6,1204.2 L1171.6,1250.8 L1192.7,1257.8 L1215.6,1281.0 M1171.6,1250.8 L1188.3,1281.0 M1092.5,1230.5 L1141.8,1267.5 L1154.1,1281.0 M1141.8,1267.5 L1146.2,1281.0 M1143.5,1273.6 L1164.6,1281.0 M1043.3,1087.3 L1031.0,1143.5 M1031.0,1154.1 L1057.4,1214.7 L1064.4,1243.7 L1074.1,1281.0 M1064.4,1243.7 L1073.2,1250.8 M1281.0,1236.2 L1301.7,1253.8 M1281.0,1259.8 L1331.0,1316.5 M1316.4,1289.6 L1304.8,1286.5 M1266.2,1281.2 L1371.7,1407.8 M1308.0,1331.8 L1317.5,1334.0 M1236.9,1281.4 L1272.1,1326.6 M1272.1,1326.6 L1291.1,1332.9 M1231.0,1303.4 L1242.6,1318.1 L1272.1,1355.1 M1242.6,1318.1 L1252.1,1322.4 M1231.0,1309.7 L1289.0,1392.0 L1346.6,1466.9 M1289.0,1392.0 L1303.8,1396.2 M1231.0,1339.2 L1273.2,1408.8 L1319.0,1481.0 M1273.2,1408.8 L1284.8,1415.2 M1231.0,1338.2 L1239.4,1343.4 M1231.0,1396.2 L1246.8,1409.9 M1231.0,1405.7 L1244.7,1426.8 M1520.9,1331.0 L1531.0,1339.2 M998.6,1305.6 L982.8,1381.2 L981.0,1393.5 M982.8,1381.2 L991.5,1398.8 L1013.5,1454.2 M991.5,1398.8 L1009.1,1412.9 M981.0,1435.7 L985.4,1447.1 M998.6,1305.6 L1027.6,1368.9 L1039.9,1395.3 M1027.6,1368.9 L1033.7,1465.6 L1039.0,1531.0 M1033.7,1465.6 L1046.9,1490.2 L1058.4,1531.0 M1023.2,1281.0 L1039.0,1305.6 L1055.7,1375.9 L1068.9,1527.1 M1061.0,1395.3 L1067.1,1400.5 M1070.7,1439.2 L1076.8,1444.5 M1061.0,1483.2 L1068.9,1492.0 M1074.2,1281.0 L1088.2,1328.5 L1097.0,1366.3 M1076.8,1286.3 L1083.0,1293.3 M1086.5,1325.0 L1092.6,1332.0 M1107.6,1281.0 L1111.1,1288.0 L1170.9,1481.4 L1184.9,1531.0 M1170.0,1481.4 L1177.9,1487.6 M1111.1,1288.0 L1145.4,1327.6 L1158.6,1354.8 L1190.2,1419.9 L1222.7,1484.9 M1158.6,1354.8 L1170.9,1363.6 M1190.2,1419.9 L1202.5,1426.9 M1147.1,1281.0 L1157.7,1299.5 L1188.5,1361.9 L1227.1,1435.7 L1231.0,1443.4 M1157.7,1299.5 L1174.4,1310.0 M1188.5,1361.9 L1231.0,1393.5 M1165.6,1281.0 L1171.8,1284.5 L1210.4,1346.9 M1180.5,1298.6 L1194.6,1310.0 M1188.5,1281.0 L1200.8,1295.9 L1231.0,1342.5 M1200.8,1295.9 L1227.1,1303.9 L1231.0,1307.4 M1318.9,1481.0 L1365.6,1552.9 M1323.5,1481.1 L1331.2,1485.9 M987.6,1531.0 L987.6,1660.2 M987.6,1607.3 L993.8,1615.9 M988.1,1540.8 L1002.4,1567.9 L1007.8,1660.2 M1004.8,1603.6 L1011.0,1612.2 M1038.1,1531.0 L1043.0,1604.8 M1056.5,1531.0 L1067.6,1595.0 M1184.5,1531.0 L1234.2,1692.2 M1184.5,1532.2 L1194.4,1537.2 M1201.7,1586.4 L1212.1,1591.3 M1217.7,1641.8 L1228.8,1646.2 M1031.0,1143.5 L998.6,1305.6 M1661.0,630.8 L1748.3,591.8 M1684.4,620.7 L1686.5,611.8 M1631.0,806.5 L1811.6,760.3 M1631.0,971.9 L1653.4,971.9 M1531.0,1339.2 L1590.7,1371.7 M1554.6,1331.0 L1581.2,1350.6 M1131.0,692.1 L1150.0,657.3 M1142.6,700.6 L1151.9,684.5 L1175.3,648.5 M1151.9,684.5 L1150.0,676.3 M1161.7,700.8 L1173.4,683.3 L1198.1,647.8 M1173.4,683.3 L1171.8,672.5 M1179.5,700.6 L1179.7,699.1 L1235.4,620.6 M1212.6,652.3 L1211.0,644.7 M1206.9,700.7 L1238.6,641.5 L1267.1,604.8 L1270.9,601.0 M1267.1,604.8 L1268.3,601.0 M1217.8,700.8 L1244.9,660.5 L1272.8,628.8 M1244.9,660.5 L1242.4,650.4 M1233.7,700.7 L1307.6,601.2 M1252.3,700.8 L1275.3,675.7 M1261.0,719.0 L1311.0,663.0 M1261.2,732.0 L1268.3,725.7 M1274.0,781.0 L1306.3,759.2 L1311.0,756.1 M1306.3,759.2 L1311.0,749.7 M1061.0,840.2 L1086.3,794.5 L1130.6,720.0 L1141.9,701.0 M1130.6,720.0 L1128.5,713.0 M1086.3,794.5 L1087.7,774.1 L1112.3,726.3 L1125.7,701.0 M1112.3,726.3 L1110.2,718.6 M1067.3,888.8 L1103.2,853.6 L1142.6,817.0 L1172.1,790.3 L1235.4,720.0 L1253.0,701.0 M1235.4,719.4 L1234.8,708.0 M1103.2,853.6 L1106.7,805.1 L1122.2,783.3 L1178.0,714.4 L1179.8,701.0 M1122.2,783.3 L1123.6,760.1 L1151.7,715.1 L1160.9,701.0 M1151.7,715.1 L1148.2,706.6 M1142.6,817.0 L1142.6,793.1 L1202.4,724.2 L1217.7,701.0 M1202.4,724.2 L1200.2,713.0 L1206.7,701.0 M1172.1,790.3 L1172.1,781.2 L1236.8,701.0 M1079.3,901.0 L1165.1,861.3 L1205.9,842.4 L1261.0,816.8 M1165.1,861.3 L1173.5,828.3 L1190.4,811.4 L1228.5,781.0 L1256.4,758.7 M1256.4,758.7 L1256.9,746.6 M1190.4,811.4 L1199.5,786.8 L1207.6,778.9 L1261.0,719.0 M1207.6,778.9 L1234.4,755.6 L1261.0,731.9 M1234.4,755.6 L1236.1,743.3 M1205.9,842.4 L1214.3,817.7 L1261.0,788.2 M1270.6,600.6 L1322.3,538.5 M1291.9,575.1 L1290.5,565.2 M1266.1,600.6 L1265.2,597.0 M1307.7,601.0 L1313.9,592.8 L1397.4,516.6 M1342.6,575.1 L1342.6,565.2 M1369.3,544.2 L1368.5,535.1 M1315.9,603.2 L1315.9,594.8 M1311.1,662.9 L1493.1,491.5 M1443.8,535.7 L1443.3,527.3 M1392.6,583.0 L1391.8,573.7 M1261.0,786.1 L1269.7,781.0 M1311.1,756.9 L1547.1,605.2 M1382.0,710.1 L1380.5,700.8 M1435.4,676.4 L1433.2,667.9 M1490.3,639.8 L1490.3,630.8 M1311.0,746.0 L1318.7,724.2 L1455.1,629.1 M1351.0,700.3 L1351.0,690.4 M1403.9,663.7 L1403.9,654.4 M1319.2,781.0 L1326.0,767.8 L1467.8,687.6 L1522.6,658.1 M1467.8,687.6 L1465.8,677.8 M1338.6,781.0 L1472.0,718.6 L1661.0,630.8 M1597.1,660.9 L1598.0,652.4 M1472.0,718.6 L1476.2,701.7 L1652.6,617.3 M1538.9,670.7 L1538.9,661.7 M1597.1,644.0 L1598.0,633.6 M1396.0,781.0 L1498.7,736.0 M1407.3,768.6 L1401.6,777.6 M1452.3,746.7 L1446.1,757.9 M1460.7,781.0 L1558.6,738.8 M1521.2,745.3 L1515.6,756.5 M1521.2,781.0 L1625.3,743.9 M1579.7,749.5 L1571.8,762.2 M1531.3,831.6 L1631.0,805.5 M1231.0,971.5 L1631.0,971.5 M1298.5,971.5 L1306.9,963.9 M1529.2,971.5 L1541.8,964.5 M1589.6,971.5 L1602.3,963.1 M1235.2,971.5 L1274.6,953.2 L1371.1,942.5 M1318.2,947.6 L1330.9,939.2 M1339.3,971.5 L1382.9,949.8 L1468.7,946.2 L1573.6,948.2 M1419.5,947.6 L1430.2,939.2 M1512.3,951.0 L1525.8,943.4 M1411.0,971.5 L1447.6,955.2 L1481.4,953.2 M1470.1,971.5 L1482.8,964.5 M1239.4,1023.5 L1290.1,992.0 L1442.0,1000.5 M1332.3,994.0 L1344.9,987.0 M1387.1,996.8 L1399.8,990.4 M1284.4,1032.8 L1333.7,1013.7 L1413.3,1022.1 M1333.7,1013.7 L1347.7,1007.2 M1231.0,1021.6 L1508.1,1079.8 M1508.1,1079.8 L1522.1,1074.2 M1356.2,1047.7 L1392.7,1034.2 L1458.8,1046.0 L1503.3,1050.3 M1449.0,1041.8 L1460.3,1036.2 M1231.0,1040.4 L1458.8,1099.5 M1458.8,1099.5 L1471.5,1095.8 M1263.3,1049.4 L1276.0,1046.6 M1312.6,1062.9 L1333.7,1058.1 L1374.5,1067.1 M1399.8,1088.2 L1413.8,1086.8 L1433.5,1091.1 M1231.0,1109.6 L1251.8,1127.3 L1321.0,1110.7 L1411.0,1129.0 M1354.8,1122.0 L1377.3,1117.8 L1411.0,1124.8 L1423.7,1120.6 L1453.2,1127.6 M1231.0,940.6 L1308.9,931.0 M1231.0,852.3 L1393.9,781.1 M1231.0,885.6 L1335.4,848.1 L1520.6,781.2 M1335.4,848.1 L1349.1,829.1 L1461.0,781.1 M1231.0,908.6 L1366.0,871.9 L1531.0,831.8 M1309.1,931.0 L1432.5,916.7 L1445.1,906.5 M1261.3,787.4 L1271.5,781.1 M1261.1,816.5 L1312.2,793.2 L1338.6,781.2 M1312.2,793.2 L1318.7,781.2 M797.7,1034.5 L733.7,1107.7 L681.0,1124.5 M883.5,1049.3 L834.3,1076.0 L789.3,1099.9 L681.0,1156.2 M789.3,1099.9 L778.0,1112.6 L733.7,1147.0 L731.9,1156.2 M834.3,1076.0 L816.0,1103.4 L733.7,1163.9 L731.9,1175.9 M881.0,1064.8 L850.5,1090.8 L749.9,1174.5 L719.0,1199.8 L681.0,1229.3 M749.9,1174.5 L745.0,1189.2 M719.7,1199.8 L716.2,1211.7 M850.5,1090.8 L847.0,1102.7 L796.3,1157.6 L768.2,1189.9 L738.0,1221.2 M796.3,1158.3 L793.5,1173.1 M768.2,1190.6 L766.5,1202.9 M881.0,1143.5 L861.7,1160.4 L802.7,1207.5 L776.6,1231.0 M861.7,1160.4 L867.4,1192.7 L842.7,1231.0 M802.7,1207.5 L797.7,1231.0"/>
<circle class="c" cx="1525.1" cy="1188.5" r="45.0"/>
<circle class="c" cx="1620.7" cy="1402.3" r="52.0"/>
<circle class="c" cx="1581.9" cy="1350.3" r="45.6"/>
<circle class="c" cx="1634.2" cy="1246.2" r="37.1"/>
<circle class="c" cx="1392.3" cy="1198.9" r="43.0"/>
<circle class="c" cx="1418.8" cy="1076.9" r="33.8"/>
<circle class="c" cx="1606.1" cy="1225.7" r="32.3"/>
<circle class="c" cx="1501.7" cy="1139.3" r="30.4"/>
<circle class="c" cx="1570.1" cy="1144.4" r="30.4"/>
<circle class="c" cx="1613.1" cy="1166.0" r="28.1"/>
<circle class="c" cx="1385.0" cy="1061.9" r="24.8"/>
<circle class="c" cx="1459.8" cy="1036.6" r="24.8"/>
<circle class="c" cx="1503.2" cy="1050.1" r="25.3"/>
<circle class="c" cx="1549.6" cy="1177.3" r="23.9"/>
<circle class="c" cx="1566.4" cy="1206.8" r="23.9"/>
<circle class="c" cx="1510.2" cy="1209.6" r="25.3"/>
<circle class="c" cx="1536.3" cy="1159.0" r="23.1"/>
<circle class="c" cx="1592.0" cy="1371.4" r="41.6"/>
<circle class="c" cx="1371.8" cy="1406.5" r="32.6"/>
<circle class="c" cx="352.4" cy="879.8" r="24.8"/>
<circle class="c" cx="465.8" cy="884.9" r="29.0"/>
<circle class="c" cx="427.3" cy="1010.4" r="21.7"/>
<circle class="c" cx="466.7" cy="1010.4" r="22.5"/>
<circle class="c" cx="557.2" cy="992.7" r="23.1"/>
<circle class="c" cx="647.1" cy="784.1" r="31.3"/>
<circle class="c" cx="497.6" cy="1497.6" r="25.1"/>
<circle class="c" cx="522.2" cy="1496.8" r="25.4"/>
<circle class="c" cx="762.3" cy="489.8" r="24.6"/>
<circle class="c" cx="951.0" cy="1282.1" r="52.3"/>
<circle class="c" cx="967.9" cy="1278.9" r="28.1"/>
<circle class="c" cx="720.0" cy="1325.3" r="22.2"/>
<circle class="c" cx="703.2" cy="1382.3" r="24.9"/>
<circle class="c" cx="797.0" cy="1312.6" r="38.0"/>
<circle class="c" cx="818.1" cy="1458.2" r="23.2"/>
<circle class="c" cx="860.3" cy="1466.7" r="23.6"/>
<circle class="c" cx="873.4" cy="1470.5" r="24.9"/>
<circle class="c" cx="838.2" cy="1455.1" r="24.9"/>
<circle class="c" cx="855.7" cy="1502.9" r="24.3"/>
<circle class="c" cx="795.1" cy="1511.4" r="34.0"/>
<circle class="c" cx="807.6" cy="1556.9" r="25.3"/>
<circle class="c" cx="791.4" cy="1592.3" r="27.6"/>
<circle class="c" cx="937.6" cy="425.2" r="23.1"/>
<circle class="c" cx="1271.2" cy="1219.6" r="26.5"/>
<circle class="c" cx="1236.3" cy="1461.6" r="22.2"/>
<circle class="c" cx="1079.1" cy="1480.5" r="33.4"/>
<circle class="c" cx="1065.0" cy="1400.5" r="26.0"/>
<circle class="c" cx="1076.3" cy="1444.9" r="25.0"/>
<circle class="c" cx="1235.4" cy="617.5" r="23.5"/>
<circle class="c" cx="1313.9" cy="592.8" r="24.2"/>
<circle class="c" cx="1538.9" cy="659.5" r="24.2"/>
<circle class="c" cx="1481.9" cy="963.1" r="23.3"/>
<circle class="c" cx="1557.4" cy="2833.6" r="31.1"/>
<circle class="c" cx="1348.5" cy="3122.4" r="23.2"/>
<text class="l" x="402" y="317" fill="#3f2b84" stroke="#eeebf3" stroke-width="1.1" textLength="65" lengthAdjust="spacingAndGlyphs">TK</text>
<text class="l" x="1138" y="151" fill="#a52a35" stroke="#f7ebee" stroke-width="1.1" textLength="93" lengthAdjust="spacingAndGlyphs">TKL</text>
<text class="l" x="1568.5" y="423" fill="#5b6b7c" stroke="#eff3f7" stroke-width="1.1" textLength="93" lengthAdjust="spacingAndGlyphs">STE</text>
<text class="l" x="1737" y="702" fill="#1a8088" stroke="#e7f3f8" stroke-width="1.1" textLength="95" lengthAdjust="spacingAndGlyphs">CK1</text>
<text class="l" x="1762" y="1162" fill="#2d5fa8" stroke="#eaf1fa" stroke-width="1.1" textLength="107" lengthAdjust="spacingAndGlyphs">AGC</text>
<text class="l" x="1213" y="1804" fill="#6e7a2a" stroke="#f6f6f1" stroke-width="1.1" textLength="148" lengthAdjust="spacingAndGlyphs">CAMK</text>
<text class="l" x="495" y="1750" fill="#3c5a8c" stroke="#ebf1f7" stroke-width="1.1" textLength="155" lengthAdjust="spacingAndGlyphs">CMGC</text>
<text class="l" x="103" y="1177.5" fill="#4d96cf" stroke="#eff6fd" stroke-width="1.1" textLength="171" lengthAdjust="spacingAndGlyphs">OTHER</text>
<text class="l" x="332" y="2001.5" fill="#1a5fb0" stroke="#ffffff" stroke-width="1.1" textLength="248" lengthAdjust="spacingAndGlyphs">ATYPICAL</text>
<text class="l" x="1222" y="2001.5" fill="#1a5fb0" stroke="#ffffff" stroke-width="1.1" textLength="226" lengthAdjust="spacingAndGlyphs">MUTANT</text>
<text class="l" x="321" y="2833" fill="#1a5fb0" stroke="#ffffff" stroke-width="1.1" textLength="123" lengthAdjust="spacingAndGlyphs">LIPID</text>
<text class="l" x="322.5" y="3424" fill="#1a5fb0" stroke="#ffffff" stroke-width="1.1" textLength="292" lengthAdjust="spacingAndGlyphs">PATHOGEN</text>
<text class="t" x="16" y="60.5">LY-317615</text>
</svg></body></html>
